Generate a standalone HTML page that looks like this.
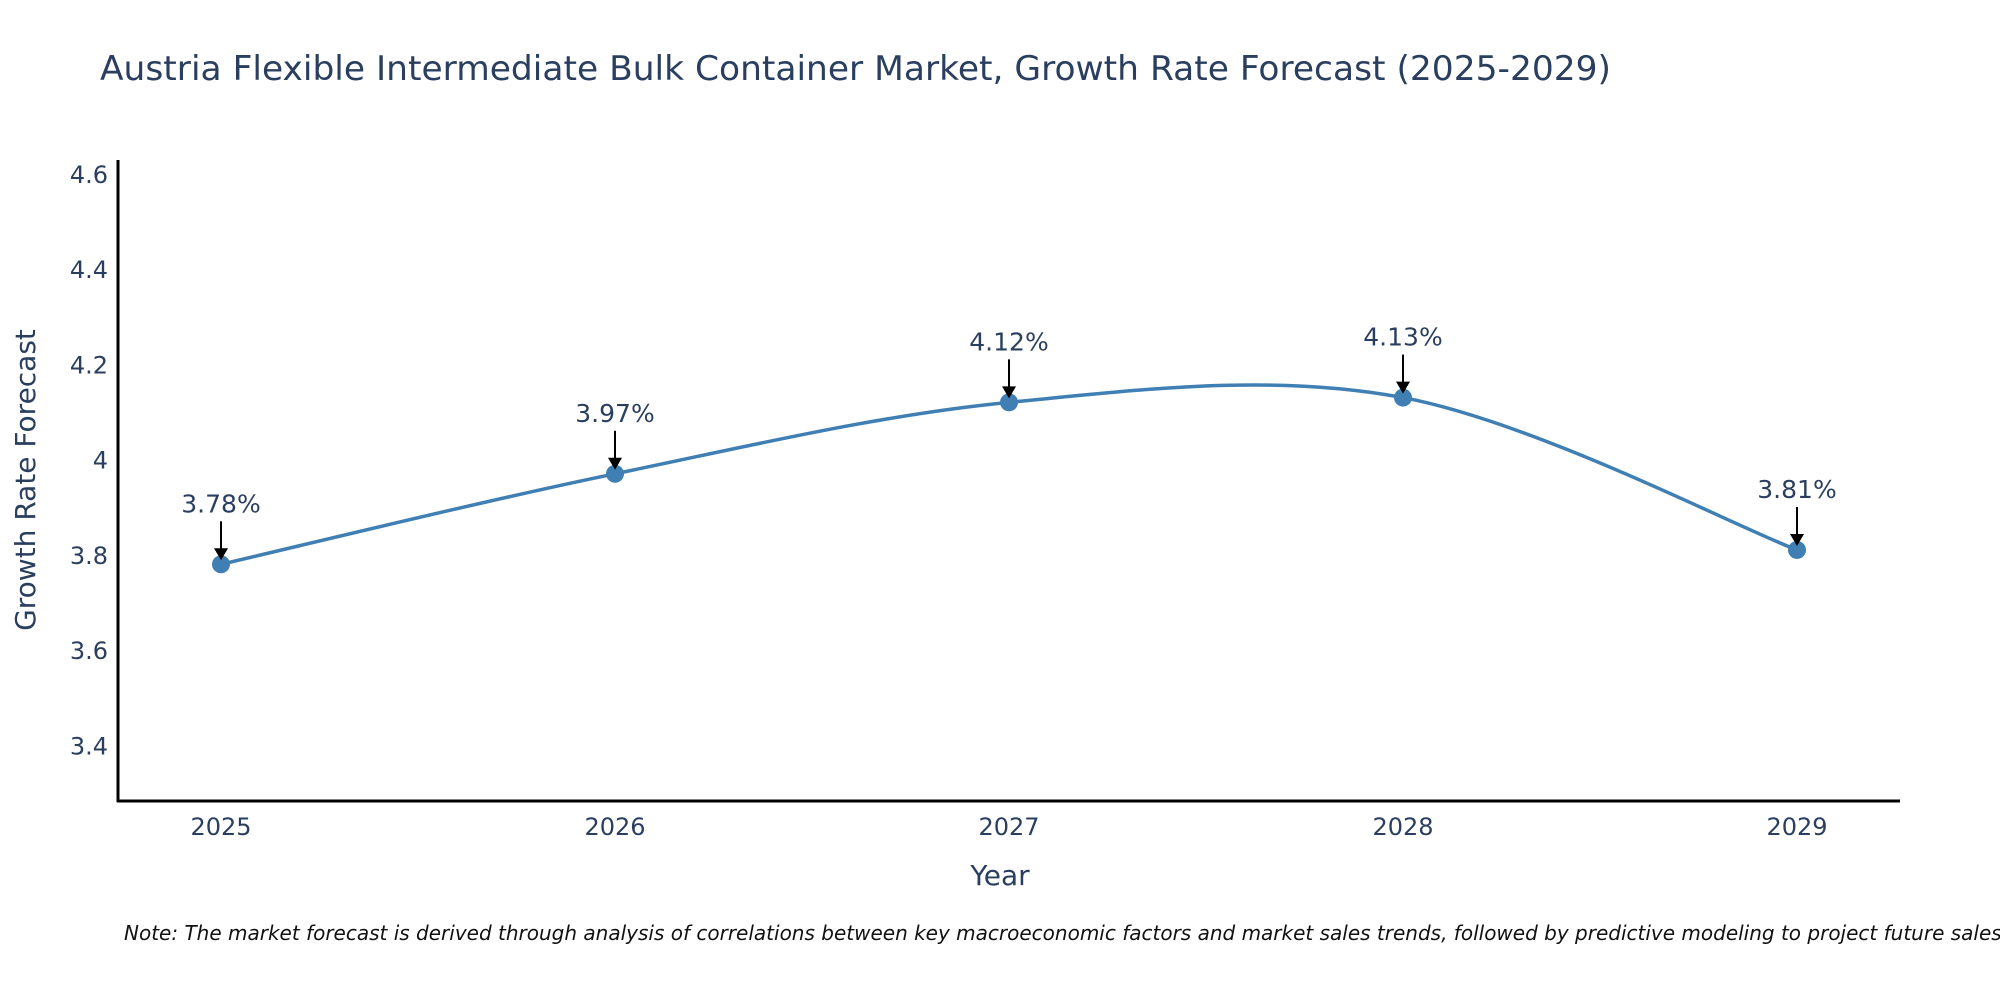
<!DOCTYPE html>
<html><head><meta charset="utf-8"><style>
body{margin:0;background:#fff}
svg text{font-family:"DejaVu Sans","Liberation Sans",sans-serif;fill:#2a3f5f}
</style></head><body>
<svg id="chart" width="2000" height="1000">
<text x="100" y="80" font-size="34" textLength="1511" lengthAdjust="spacingAndGlyphs">Austria Flexible Intermediate Bulk Container Market, Growth Rate Forecast (2025-2029)</text>
<g id="yticks"></g><g id="xticks"></g>
<line x1="118" y1="160" x2="118" y2="802" stroke="#000" stroke-width="3"/>
<line x1="117" y1="801" x2="1900" y2="801" stroke="#000" stroke-width="3"/>
<text x="1000" y="885" font-size="28" text-anchor="middle">Year</text>
<text transform="translate(35,480) rotate(-90)" font-size="28" text-anchor="middle">Growth Rate Forecast</text>
<path id="line" fill="none" stroke="#3f7fb3" stroke-width="3.5"/>
<g id="marks"></g>
<text x="124" y="940" font-size="20" font-style="italic" style="fill:#111">Note: The market forecast is derived through analysis of correlations between key macroeconomic factors and market sales trends, followed by predictive modeling to project future sales.</text>
</svg>
<script>
const years=["2025","2026","2027","2028","2029"];
const values=[3.78,3.97,4.12,4.13,3.81];
const labels=["3.78%","3.97%","4.12%","4.13%","3.81%"];
const yTicks=[3.4,3.6,3.8,4,4.2,4.4,4.6];
const yTickLabels=["3.4","3.6","3.8","4","4.2","4.4","4.6"];
const NS="http://www.w3.org/2000/svg";
function xs(i){return 221+i*394;}
function ys(v){return 459.5-(v-4)*476.25;}
function mk(t,a,parent){const e=document.createElementNS(NS,t);for(const k in a)e.setAttribute(k,a[k]);parent.appendChild(e);return e;}
const yt=document.getElementById('yticks');
yTicks.forEach((v,i)=>{const t=mk('text',{x:108,y:ys(v)+9,'font-size':24,'text-anchor':'end'},yt);t.textContent=yTickLabels[i];

});
const xt=document.getElementById('xticks');
years.forEach((y,i)=>{const t=mk('text',{x:xs(i),y:835,'font-size':24,'text-anchor':'middle'},xt);t.textContent=y;

});
const P=values.map((v,i)=>[xs(i),ys(v)]);
let d=`M${P[0][0]},${P[0][1]}`;const T=0.5;
for(let i=0;i<P.length-1;i++){const p0=P[Math.max(0,i-1)],p1=P[i],p2=P[i+1],p3=P[Math.min(P.length-1,i+2)];
const c1=[p1[0]+(p2[0]-p0[0])*T/3,p1[1]+(p2[1]-p0[1])*T/3];
const c2=[p2[0]-(p3[0]-p1[0])*T/3,p2[1]-(p3[1]-p1[1])*T/3];
d+=` C${c1[0]},${c1[1]} ${c2[0]},${c2[1]} ${p2[0]},${p2[1]}`;}
document.getElementById('line').setAttribute('d',d);
const mg=document.getElementById('marks');
P.forEach((p,i)=>{
const c=mk('circle',{cx:p[0],cy:p[1],r:9,fill:'#3f7fb3'},mg);


const l=mk('line',{x1:p[0],y1:p[1]-43,x2:p[0],y2:p[1]-14,stroke:'#000','stroke-width':2},mg);


const h=mk('polygon',{points:`${p[0]-7},${p[1]-16} ${p[0]+7},${p[1]-16} ${p[0]},${p[1]-4}`,fill:'#000'},mg);


const t=mk('text',{x:p[0],y:p[1]-52,'font-size':25,'text-anchor':'middle'},mg);t.textContent=labels[i];


});
</script>
</body></html>
